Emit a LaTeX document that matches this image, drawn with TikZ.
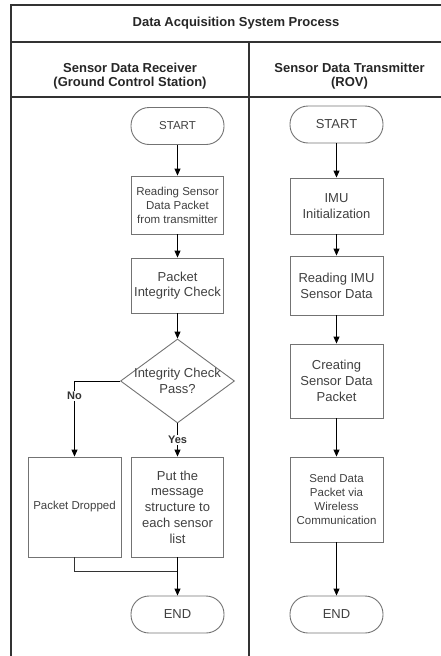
\documentclass[tikz,border=0pt]{standalone}
\usepackage{fontspec}
\setmainfont{Liberation Sans}
\usetikzlibrary{arrows.meta,shapes.geometric}
\begin{document}
\begin{tikzpicture}[x=1pt,y=-1pt,
  frame/.style={line width=2pt, draw=black!80},
  boxbase/.style={draw=black!55, line width=0.9pt, align=center, text=black!75, inner sep=1pt},
  proc/.style={boxbase, rectangle, minimum width=92pt},
  term/.style={boxbase, rectangle, rounded corners=18pt, minimum width=93pt, minimum height=37pt},
  small/.style={font=\fontsize{11.5}{14}\selectfont},
  big/.style={font=\fontsize{13}{15.7}\selectfont},
  hdr/.style={font=\fontsize{13}{14.5}\selectfont\bfseries, align=center, text=black!85},
  flow/.style={draw=black, line width=0.9pt, -{Triangle[length=7pt,width=6pt]}},
  joinline/.style={draw=black!80, line width=0.9pt},
  lab/.style={font=\fontsize{11}{13}\selectfont\bfseries, text=black!80, fill=white, inner sep=1pt}
]
\useasboundingbox (0,0) rectangle (441,656);
\clip (0,0) rectangle (441,656);
% frame
\draw[frame] (11,660) -- (11,5) -- (450,5);
\draw[frame] (11,42) -- (450,42);
\draw[frame] (11,97) -- (450,97);
\draw[frame] (249,42) -- (249,660);
% headers
\node[hdr] (title) at (236,23) {Data Acquisition System Process};
\node[hdr] (hl) at (130,76) {Sensor Data Receiver\\(Ground Control Station)};
\node[hdr] (hr) at (349.5,76) {Sensor Data Transmitter\\(ROV)};
% left column
\node[term, small] (lstart) at (177.5,126) {START};
\node[proc, small, minimum height=58pt] (lread) at (177.5,205) {Reading Sensor\\Data Packet\\from transmitter};
\node[proc, big, minimum height=55pt] (lcheck) at (177.5,285.5) {Packet\\Integrity Check};
\node[diamond, draw=black!55, line width=0.9pt, minimum width=114pt, minimum height=84pt, inner sep=0pt] (ldec) at (177.5,381) {};
\node[big, align=center, text=black!75] (ldect) at (177.5,381) {Integrity Check\\Pass?};
\node[proc, small, minimum width=93pt, minimum height=100pt] (ldrop) at (74.5,507) {Packet Dropped};
\node[proc, big, minimum height=100pt] (lput) at (177.5,507) {Put the\\message\\structure to\\each sensor\\list};
\node[term, big] (lend) at (177.5,614.5) {END};
\coordinate (merge) at (177.5,571);
% right column
\node[term, big] (rstart) at (336.5,124.5) {START};
\node[proc, big, minimum width=93pt, minimum height=56pt] (rimu) at (336.5,206) {IMU\\Initialization};
\node[proc, big, minimum width=93pt, minimum height=59pt] (rread) at (336.5,285.5) {Reading IMU\\Sensor Data};
\node[proc, big, minimum width=93pt, minimum height=74pt] (rcreate) at (336.5,381) {Creating\\Sensor Data\\Packet};
\node[proc, small, minimum width=93pt, minimum height=85pt] (rsend) at (336.5,499.5) {Send Data\\Packet via\\Wireless\\Communication};
\node[term, big] (rend) at (336.5,614.5) {END};
% left connectors
\draw[flow] (lstart) -- (lread);
\draw[flow] (lread) -- (lcheck);
\draw[flow] (lcheck) -- (ldec);
\draw[flow] (ldec.south) -- node[lab, pos=0.5] {Yes} (lput.north);
\draw[flow] (ldec.west) -| node[lab, pos=0.6] {No} (ldrop.north);
\draw[joinline] (ldrop.south) |- (merge);
\draw[flow] (lput.south) -- (lend.north);
% right connectors
\draw[flow] (rstart) -- (rimu);
\draw[flow] (rimu) -- (rread);
\draw[flow] (rread) -- (rcreate);
\draw[flow] (rcreate) -- (rsend);
\draw[flow] (rsend) -- (rend);
\end{tikzpicture}
\end{document}
